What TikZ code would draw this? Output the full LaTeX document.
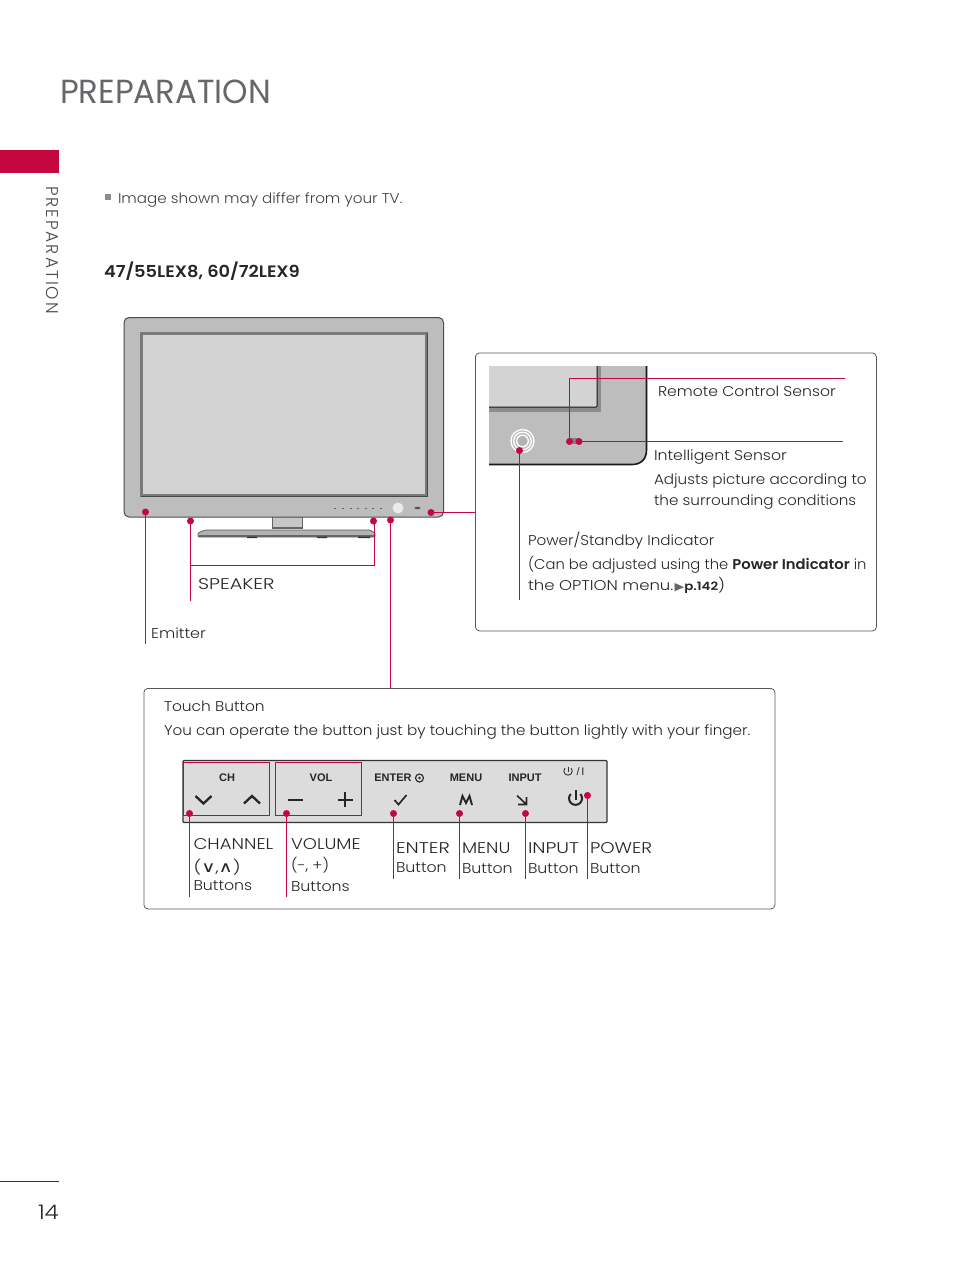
\documentclass[tikz,border=0pt]{standalone}
\usepackage{fontspec}
\setmainfont{Poppins Light}[BoldFont={Poppins SemiBold}]
\newfontfamily\titlefont{Poppins}
\newfontfamily\sidefont{Poppins Light}[LetterSpace=12]
\newfontfamily\panelfont{Liberation Sans}
\newfontfamily\symfont{DejaVu Sans}
\definecolor{lgred}{HTML}{C5073F}
\definecolor{txt}{HTML}{262626}
\definecolor{titlegray}{HTML}{66676A}
\definecolor{sidegray}{HTML}{48494B}
\definecolor{bezel}{HTML}{BDBDBD}
\definecolor{screen}{HTML}{D3D3D3}
\definecolor{panel}{HTML}{DCDCDC}
\newcommand{\fs}[1]{\fontsize{#1}{#1}\selectfont}
\tikzset{
  x=1pt,y=-1pt,
  lbl/.style={anchor=base west,inner sep=0pt,outer sep=0pt,text=txt,font=\fs{14.2}},
  caps/.style={lbl,font=\fs{15.5}},
  plbl/.style={anchor=center,inner sep=0pt,outer sep=0pt,text=txt,font=\panelfont\bfseries\fs{11}},
  dot/.style={circle,fill=lgred,inner sep=0pt,minimum size=7pt},
  conn/.style={draw=lgred,line width=0.9pt},
  framebox/.style={draw=black!65,line width=0.8pt,rounded corners=4pt,fill=white},
  icon/.style={draw=black!85,line width=2pt},
}
\begin{document}
\begin{tikzpicture}
\useasboundingbox (0,0) rectangle (954,1272);
% page furniture
\fill[lgred] (0,150) rectangle (59,173);
\draw[black!80,line width=0.7pt] (0,1181.5) -- (59,1181.5);
\node[lbl,text=titlegray,font=\titlefont\fs{33.4},xscale=0.97] (title) at (60,103) {PREPARATION};
\node[lbl,text=sidegray,font=\sidefont\fs{17},rotate=-90,anchor=base west] (side) at (46,186) {PREPARATION};
\node[lbl,font=\fs{20},xscale=1.15] (pageno) at (38,1219) {14};
\fill[black!45] (105,194) rectangle (111,200);
\node[lbl,text=black!75,xscale=1.067] (note) at (118,203) {Image shown may differ from your TV.};
\node[lbl,font=\bfseries\fs{16.5},xscale=1.08] (model) at (104,277) {47/55LEX8, 60/72LEX9};

% TV
\fill[black!60] (272,517) rectangle (303,529);
\fill[black!22] (273,517) rectangle (302,527);
\draw[fill=black!30,draw=black!65,line width=0.7pt,rounded corners=1pt] (198,533) -- (205,530) -- (370,530) -- (375,533) -- (375,537) -- (198,537) -- cycle;
\fill[black!60] (199,534.5) rectangle (374,537);
\fill[black!80] (247,536.5) rectangle (257,538) (317,536.5) rectangle (327,538) (358,536.5) rectangle (370,538);
\draw[fill=bezel,draw=black!70,line width=1pt,rounded corners=5pt] (124,317.5) rectangle (443.5,517);
\draw[fill=screen,draw=black!52,line width=2.8pt] (141.5,333.5) rectangle (426.5,495.5);
\draw[black!72,line width=1pt] (141,496.5) -- (427,496.5) -- (427,333);
\foreach \bx in {335,343,351,358,366,373,381} \fill[black!60] (\bx-0.7,507.5) rectangle (\bx+0.7,509);
\fill[black!8] (398,508) circle (5.5);
\fill[black!65] (417.5,508) ellipse (3 and 1.3);

% detail box
\node[framebox,minimum width=401pt,minimum height=278pt,anchor=north west] (detail) at (475,352.5) {};
\fill[bezel] (489,366) -- (647,366) -- (647,450) .. controls (647,460) and (640,464.5) .. (632,464.5) -- (489,464.5) -- cycle;
\draw[black!90,line width=1.6pt] (646.5,366) -- (646.5,450) .. controls (646.5,460) and (640,464.5) .. (632,464.5) -- (489,464.5);
\fill[black!45] (489,366) rectangle (601,412);
\fill[screen] (489,366) rectangle (597,407);
\draw[black!90,line width=1pt] (597,366) -- (597,406) -- (596,407) -- (489,407);
\fill[black!50] (570,438) rectangle (579,444);
\foreach \r in {11.5,8.8} \draw[white,line width=1.3pt] (522.5,441) circle (\r);
\draw[white,line width=1.3pt,fill=black!30] (522.5,441) circle (5.8);

% touch box
\node[framebox,minimum width=631pt,minimum height=220.5pt,anchor=north west] (touch) at (143.5,688) {};

% control panel
\fill[panel] (183,761) rectangle (607,822);
\draw[black!80,line width=1.1pt,rounded corners=1pt] (183,760.5) -- (607,760.5) -- (607,822.5) -- (183,822.5) -- cycle;
\draw[lgred,line width=0.8pt] (183.5,762.5) rectangle (269.5,815.5);
\draw[lgred,line width=0.8pt] (275.5,762.5) rectangle (361.5,815.5);
\node[plbl] (pch) at (227,778) {CH};
\node[plbl] (pvol) at (321,778) {VOL};
\node[plbl] (pent) at (393,778) {ENTER};
\node[plbl] (pmenu) at (466,778) {MENU};
\node[plbl] (pinput) at (525,778) {INPUT};
\draw[black!85,line width=1.1pt] (419.5,778) circle (4);
\fill[black!85] (419.5,778) circle (1.4);
% small power label
\draw[black!80,line width=0.9pt] (564.9,768.2) arc (222:-42:4.2);
\draw[black!80,line width=0.9pt] (568,766.5) -- (568,771.5);
\node[plbl,font=\panelfont\fs{11}] (pslash) at (580.5,772) {/\,I};
% icons
\draw[icon,line width=2.3pt] (195.5,796) -- (203.5,803.5) -- (211.5,796);
\draw[icon,line width=2.3pt] (244,803.5) -- (252,796) -- (260,803.5);
\draw[icon] (288,800) -- (302.5,800);
\draw[icon] (338,799.5) -- (352.5,799.5) (345.2,792) -- (345.2,807);
\draw[icon,line width=1.7pt] (394.5,800) -- (398.5,804.5) -- (406.5,795);
\draw[icon,line width=1.9pt] (460,805) -- (462.5,796) -- (466,803) -- (469.5,796) -- (472,805);
\draw[icon,line width=1.6pt] (517,795.5) -- (526.5,804.5) (526.5,797) -- (526.5,804.5) -- (518,804.5);
\draw[icon] (570.7,794) arc (222:-42:6.5);
\draw[icon] (575.5,790) -- (575.5,799.5);

% dots and connectors
\node[dot] (emit) at (145.5,512) {};
\node[dot] (spkL) at (190.5,521) {};
\node[dot] (spkR) at (373.5,521) {};
\node[dot] (tch) at (390.5,520) {};
\node[dot] (det) at (431,512.5) {};
\coordinate (emitEnd) at (145.5,644);
\coordinate (spkLEnd) at (190.5,601);
\coordinate (spkBL) at (190.5,565.5);
\coordinate (spkBR) at (374.5,565.5);
\coordinate (detEnd) at (475,512.5);
\coordinate (tchEnd) at (390.5,688);
\draw[conn] (emit.center) -- (emitEnd);
\draw[conn] (spkL.center) -- (spkLEnd);
\draw[conn] (spkBL) -- (spkBR) -- (spkBR |- spkR.center);
\draw[conn] (det.center) -- (detEnd);
\draw[conn] (tch.center) -- (tchEnd);

\node[dot] (rem) at (569.5,441.5) {};
\node[dot] (intel) at (579,441.5) {};
\node[dot] (pwr) at (519.5,450.5) {};
\coordinate (remC) at (569.5,378.5);
\coordinate (remEnd) at (845,378.5);
\coordinate (intelEnd) at (843,441.5);
\coordinate (pwrEnd) at (519.5,600);
\draw[conn] (rem.center) -- (remC) -- (remEnd);
\draw[conn] (intel.center) -- (intelEnd);
\draw[conn] (pwr.center) -- (pwrEnd);

\node[dot] (dch) at (189.5,813.5) {};
\node[dot] (dvol) at (286.5,813.5) {};
\node[dot] (dent) at (393.5,813.5) {};
\node[dot] (dmenu) at (459.5,813.5) {};
\node[dot] (dinp) at (525.5,813.5) {};
\node[dot] (dpow) at (587.5,795.5) {};
\coordinate (ech) at (189.5,897);
\coordinate (evol) at (286.5,897);
\coordinate (eent) at (393.5,879);
\coordinate (emenu) at (459.5,879);
\coordinate (einp) at (525.5,879);
\coordinate (epow) at (587.5,879);
\draw[conn] (dch.center) -- (ech);
\draw[conn] (dvol.center) -- (evol);
\draw[conn] (dent.center) -- (eent);
\draw[conn] (dmenu.center) -- (emenu);
\draw[conn] (dinp.center) -- (einp);
\draw[conn] (dpow.center) -- (epow);

% labels
\node[caps,xscale=1.25] (tspk) at (198,589) {SPEAKER};
\node[lbl,xscale=1.12] (temit) at (151,638) {Emitter};
\node[lbl,xscale=1.10] (trem) at (658,396) {Remote Control Sensor};
\node[lbl,xscale=1.11] (tint) at (654,460) {Intelligent Sensor};
\node[lbl,xscale=1.07] (tad1) at (654,484) {Adjusts picture according to};
\node[lbl,xscale=1.07] (tad2) at (654,505) {the surrounding conditions};
\node[lbl,xscale=1.07] (tps) at (528,545) {Power/Standby Indicator};
\node[lbl,xscale=1.04] (tca1) at (528,569) {(Can be adjusted using the \textbf{Power Indicator} in};
\node[lbl,xscale=1.16] (tca2) at (528,590) {the OPTION menu.\kern1pt{\symfont\fs{11}\textcolor{black!60}{▶}}\textbf{\fs{11.5}p.142})};
\node[lbl,xscale=1.086] (ttb) at (164,711) {Touch Button};
\node[lbl,xscale=1.07] (ttd) at (164,735) {You can operate the button just by touching the button lightly with your finger.};
\node[caps,xscale=1.17] (tc1) at (193.5,849) {CHANNEL};
\node[lbl,xscale=1.3] (tc2) at (193.5,872) {({\symfont\fs{15}∨},{\symfont\fs{15}∧})};
\node[lbl,xscale=1.11] (tc3) at (193.5,890) {Buttons};
\node[caps,xscale=1.16] (tv1) at (291,849) {VOLUME};
\node[lbl,xscale=1.09] (tv2) at (291,870) {(-, +)};
\node[lbl,xscale=1.11] (tv3) at (291,891) {Buttons};
\node[caps,xscale=1.24] (te1) at (396,853) {ENTER};
\node[lbl,xscale=1.11] (te2) at (396,872) {Button};
\node[caps,xscale=1.16] (tm1) at (462,853) {MENU};
\node[lbl,xscale=1.11] (tm2) at (462,873) {Button};
\node[caps,xscale=1.24] (ti1) at (528,853) {INPUT};
\node[lbl,xscale=1.11] (ti2) at (528,873) {Button};
\node[caps,xscale=1.18] (tp1) at (590,853) {POWER};
\node[lbl,xscale=1.11] (tp2) at (590,873) {Button};
\end{tikzpicture}
\end{document}
